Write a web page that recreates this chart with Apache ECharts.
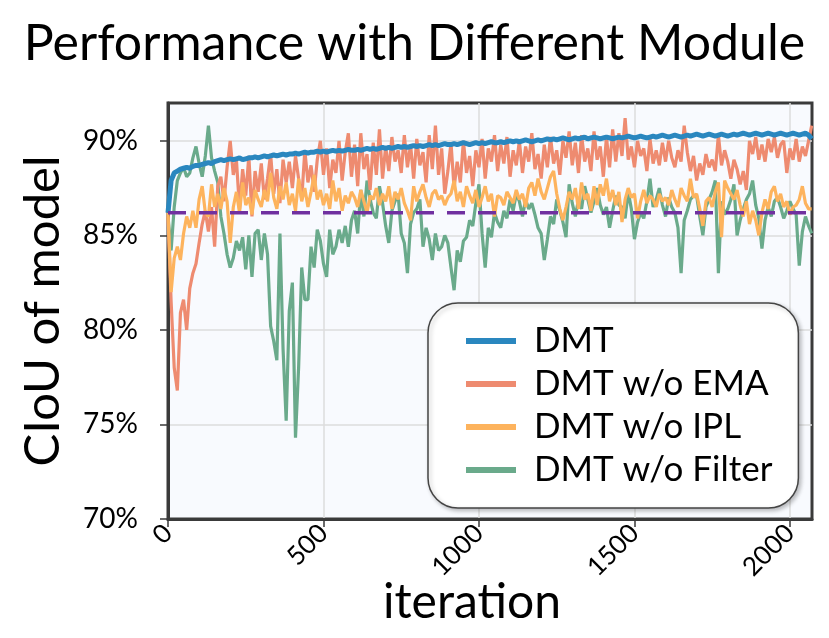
<!DOCTYPE html>
<html>
<head>
<meta charset="utf-8">
<script src="https://cdn.jsdelivr.net/npm/echarts@6/dist/echarts.min.js"></script>
<style>
  html, body { margin: 0; padding: 0; background: #fff; }
  #chart { width: 829px; height: 638px; }
</style>
</head>
<body>
<div id="chart"></div>
<script>
// sampled every 10 iterations, 0 .. 2070
const STEP = 10
const xTicks = [0, 500, 1000, 1500, 2000]
const yTicks = [70, 75, 80, 85, 90]
const seriesNames = ['DMT', 'DMT w/o EMA', 'DMT w/o IPL', 'DMT w/o Filter']

const dmt = [
  86.2, 87.9, 88.3, 88.4, 88.5, 88.55, 88.6, 88.55, 88.65, 88.7,
  88.7, 88.75, 88.8, 88.85, 88.8, 88.9, 88.95, 89.0, 88.95, 89.0,
  89.05, 89.0, 89.05, 89.1, 89.0, 89.05, 89.1, 89.1, 89.15, 89.1,
  89.15, 89.2, 89.15, 89.2, 89.25, 89.2, 89.25, 89.3, 89.25, 89.3,
  89.3, 89.35, 89.3, 89.35, 89.4, 89.35, 89.4, 89.4, 89.45, 89.4,
  89.45, 89.4, 89.45, 89.5, 89.45, 89.5, 89.45, 89.5, 89.55, 89.5,
  89.5, 89.55, 89.5, 89.55, 89.6, 89.55, 89.6, 89.55, 89.6, 89.65,
  89.6, 89.65, 89.6, 89.65, 89.7, 89.65, 89.7, 89.65, 89.7, 89.75,
  89.7, 89.75, 89.7, 89.75, 89.8, 89.75, 89.8, 89.75, 89.8, 89.85,
  89.8, 89.8, 89.85, 89.8, 89.85, 89.9, 89.85, 89.8, 89.85, 89.9,
  89.85, 89.9, 89.85, 89.9, 89.95, 89.9, 89.9, 89.95, 89.9, 89.95,
  90.0, 89.95, 90.0, 89.95, 90.0, 90.05, 90.0, 89.95, 90.0, 90.05,
  90.0, 90.05, 90.1, 90.05, 90.1, 90.05, 90.1, 90.15, 90.1, 90.05,
  90.1, 90.15, 90.1, 90.15, 90.2, 90.1, 90.15, 90.2, 90.15, 90.1,
  90.15, 90.2, 90.15, 90.1, 90.15, 90.2, 90.15, 90.2, 90.25, 90.2,
  90.15, 90.2, 90.25, 90.2, 90.15, 90.2, 90.25, 90.2, 90.25, 90.3,
  90.25, 90.2, 90.25, 90.3, 90.25, 90.2, 90.25, 90.3, 90.25, 90.3,
  90.35, 90.3, 90.25, 90.3, 90.35, 90.3, 90.25, 90.3, 90.35, 90.3,
  90.25, 90.3, 90.35, 90.3, 90.35, 90.4, 90.35, 90.3, 90.35, 90.4,
  90.35, 90.3, 90.35, 90.4, 90.35, 90.3, 90.35, 90.4, 90.35, 90.3,
  90.35, 90.4, 90.35, 90.3, 90.35, 90.4, 90.3, 90.1
]

const noEma = [
  86.0, 81.5, 78.0, 76.8, 80.9, 81.6, 80.0, 82.2, 83.0, 83.5,
  84.6, 85.6, 86.3, 85.2, 86.5, 84.4, 87.6, 88.1, 86.8, 88.6,
  90.0, 88.2, 89.0, 86.4, 88.5, 87.1, 89.2, 86.0, 88.4, 87.3,
  88.8, 86.9, 88.0, 89.3, 87.2, 88.5, 86.7, 89.0, 87.8, 88.9,
  87.5, 89.2, 88.0, 86.9, 89.5, 87.8, 88.7, 87.3, 89.0, 90.0,
  88.2, 89.6, 87.5, 89.0, 88.3, 90.0, 87.9, 89.4, 90.4, 88.1,
  89.8, 87.6, 90.4, 88.5, 89.3, 87.4, 89.9, 88.2, 90.6, 88.0,
  89.7, 88.4, 90.2, 88.9, 89.5, 88.3, 90.3, 88.6, 89.8, 88.0,
  90.1, 88.7, 89.4, 87.8, 90.3, 88.5, 90.8, 88.2, 89.6, 87.2,
  88.4, 89.9, 87.5, 88.9, 87.8, 90.0, 88.3, 89.2, 87.6, 89.5,
  88.6, 90.1, 88.0, 89.6, 88.9, 90.3, 88.4, 89.8, 88.8, 90.2,
  88.1, 89.5, 88.7, 90.0, 88.3, 89.7, 88.9, 90.4, 88.5, 89.3,
  88.0, 89.8, 88.6, 90.2, 88.8, 89.5, 88.2, 90.0, 89.1, 90.5,
  88.7, 89.9, 88.3, 90.3, 88.9, 89.6, 88.4, 90.5, 89.0, 89.7,
  88.1, 90.2, 88.6, 90.6, 88.9, 90.4, 89.2, 91.2, 89.0, 89.7,
  88.6, 90.0, 89.2, 89.6, 88.4, 90.1, 88.8, 89.5, 88.7, 89.9,
  88.9, 90.0, 89.1, 88.6, 89.5, 88.9, 90.8, 89.4, 88.4, 89.2,
  87.9, 88.8, 88.2, 89.3, 88.6, 89.0, 88.4, 90.3, 88.7, 89.5,
  88.9, 88.0, 89.0, 88.5, 87.7, 88.4, 87.4, 90.0, 89.3, 90.2,
  89.0, 89.8, 88.9, 90.1, 89.4, 90.2, 89.1, 89.8, 90.0, 88.3,
  89.6, 89.0, 90.1, 88.9, 89.7, 89.2, 90.0, 90.8
]

const noIpl = [
  86.2, 82.0, 83.8, 84.4, 83.7, 85.1, 86.0, 85.4, 86.3, 85.4,
  86.9, 87.6, 86.2, 86.0, 87.7, 86.5, 87.2, 86.4, 87.5, 86.8,
  84.6, 86.5, 87.3, 86.2, 87.8, 86.6, 87.0, 86.1, 87.4, 86.9,
  86.5, 87.4, 86.8, 88.3, 87.0, 86.4, 87.6, 86.9, 87.8, 86.6,
  87.2, 86.3, 88.0, 86.8, 87.5, 86.5, 87.3, 88.2, 86.9, 87.4,
  86.6, 87.2, 86.4, 87.9, 86.8, 87.5, 86.3, 87.1, 86.7, 87.3,
  87.0, 86.5, 87.4, 86.8, 86.2, 87.1, 86.9, 87.5, 86.6, 87.2,
  86.8, 87.6, 86.4, 87.3, 86.9, 87.5, 86.7, 86.3, 85.8, 87.6,
  86.8, 87.3, 87.7, 87.0, 86.5, 87.2, 87.4, 86.9, 87.1, 86.6,
  87.0, 87.2, 87.9, 86.8, 87.3, 86.5, 87.6, 87.1, 86.7, 87.4,
  86.5, 87.0, 87.6, 86.8, 87.2, 86.0, 87.1, 87.0, 86.6, 87.3,
  87.0, 86.7, 87.4, 86.9, 87.2, 86.5, 87.5, 87.8, 87.1, 88.0,
  87.3, 86.9, 87.5, 88.1, 88.4, 87.2, 86.4, 85.8, 86.5, 87.3,
  86.9, 87.5, 86.4, 87.8, 86.9, 87.2, 86.3, 87.6, 86.6, 87.7,
  87.1, 88.0, 86.8, 87.4, 86.6, 87.3, 85.7, 86.9, 87.5, 87.0,
  87.2, 85.9, 86.8, 87.4, 86.7, 87.1, 86.9, 86.5, 87.2, 86.8,
  87.0, 86.6, 87.4, 86.9, 86.5, 87.5, 87.1, 86.8, 88.0, 87.0,
  87.2, 86.4, 85.5, 86.8, 87.0, 86.5, 87.3, 87.8, 84.9, 87.9,
  87.5, 87.2, 86.9, 87.4, 86.6, 86.0, 86.8, 85.6, 86.3, 85.8,
  85.0, 86.2, 86.9, 86.4, 87.3, 87.6, 86.8, 87.2, 86.5, 86.8,
  86.1, 86.5, 86.6, 86.9, 87.6, 86.7, 86.4, 86.4
]

const noFilter = [
  86.0, 84.2, 86.5, 87.9, 88.3, 88.6, 88.1, 88.3, 89.1, 89.7,
  88.8, 88.1, 89.2, 90.8, 89.1, 88.4, 87.8, 86.0, 85.1, 84.0,
  83.3, 83.8, 84.7, 84.2, 84.9, 83.2, 85.0, 82.8, 85.1, 85.3,
  83.7, 85.1, 84.0, 80.2, 79.4, 78.4, 85.1, 79.0, 75.2, 81.0,
  82.5, 74.3, 78.0, 83.3, 81.6, 81.6, 84.4, 83.3, 85.3, 84.7,
  83.5, 82.8, 85.3, 84.0, 84.4, 85.3, 84.6, 85.5, 84.4, 85.8,
  86.3, 85.1, 87.4, 86.0, 87.9, 86.9, 86.2, 85.9, 87.6, 86.7,
  85.5, 84.6, 86.3, 86.8, 87.2, 85.1, 84.6, 83.0, 85.6, 86.2,
  86.4, 86.9, 84.4, 85.4, 84.8, 83.7, 85.1, 84.2, 84.4, 85.0,
  84.6, 83.3, 82.1, 84.2, 83.6, 84.7, 84.9, 85.8, 85.5, 86.7,
  87.7, 85.1, 83.3, 85.4, 84.9, 86.2, 85.7, 85.4, 86.3, 85.9,
  86.9, 86.3, 87.2, 86.8, 86.0, 86.9, 86.4, 86.7, 86.1, 85.4,
  85.1, 83.7, 84.8, 86.0, 85.6, 86.9, 86.3, 85.7, 84.9, 87.7,
  86.7, 86.0, 86.9, 86.4, 87.6, 86.9, 86.2, 86.8, 87.5, 86.6,
  86.1, 86.5, 85.4, 86.3, 87.1, 86.6, 86.5, 85.9, 87.3, 86.4,
  84.8, 85.7, 86.2, 85.9, 86.8, 88.0, 86.5, 86.9, 87.5, 86.6,
  86.0, 87.0, 86.5, 86.2, 85.4, 83.0, 85.8, 86.3, 86.9, 87.1,
  87.1, 86.0, 85.0, 86.5, 86.9, 87.3, 87.9, 83.0, 86.8, 86.1,
  86.4, 86.9, 87.7, 85.0, 85.8, 86.4, 86.9, 87.2, 87.9, 86.6,
  85.9, 84.3, 85.8, 86.5, 86.0, 86.8, 87.0, 86.5, 85.9, 86.3,
  86.8, 86.4, 86.1, 83.4, 85.2, 86.0, 85.5, 85.1
]

// dashed reference level
const baselineIters = [0, 2070]
const baselineVals = [86.2, 86.2]

const colors = {
  'DMT': '#2a87bf',
  'DMT w/o EMA': '#ee8b70',
  'DMT w/o IPL': '#fdb35d',
  'DMT w/o Filter': '#6aaa8b'
}

function toPairs(vals) {
  return vals.map((v, i) => [i * STEP, v])
}

function lineSeries(name, vals, width, z) {
  return {
    name: name,
    type: 'line',
    data: toPairs(vals),
    symbol: 'none',
    z: z,
    color: colors[name],
    lineStyle: { width: width, color: colors[name] }
  }
}

const chart = echarts.init(document.getElementById('chart'), null, { renderer: 'canvas' })
const font = 'Lato'

chart.setOption({
  animation: false,
  backgroundColor: '#ffffff',
  title: {
    text: 'Performance with Different Module',
    left: 'center',
    top: 14,
    textStyle: { fontFamily: font, fontSize: 50, fontWeight: 'normal', color: '#000' }
  },
  grid: {
    left: 168, right: 17, top: 103, bottom: 119,
    show: true,
    backgroundColor: '#f8fafe',
    borderColor: '#3a3a3a',
    borderWidth: 3,
    outerBoundsMode: 'none'
  },
  legend: {
    data: seriesNames,
    orient: 'vertical',
    left: 428, top: 303,
    icon: 'rect',
    itemWidth: 50, itemHeight: 6,
    itemGap: 7,
    padding: [20, 26, 20, 38],
    backgroundColor: '#ffffff',
    borderColor: '#444',
    borderWidth: 1.5,
    borderRadius: 30,
    shadowColor: 'rgba(0,0,0,0.25)',
    shadowBlur: 4,
    shadowOffsetX: 2,
    shadowOffsetY: 2,
    textStyle: { fontFamily: font, fontSize: 35, color: '#000', padding: [0, 0, 0, 13], lineHeight: 36 }
  },
  xAxis: {
    type: 'value',
    min: 0, max: 2071,
    name: 'iteration',
    nameLocation: 'middle',
    nameGap: 60,
    nameMoveOverlap: false,
    nameTextStyle: { fontFamily: font, fontSize: 48, color: '#000', padding: [0, 36, 0, 0] },
    axisLine: { show: true, lineStyle: { color: '#3a3a3a', width: 3 } },
    axisTick: { show: true, length: 8, customValues: xTicks, lineStyle: { color: '#3a3a3a', width: 1.5 } },
    axisLabel: { customValues: xTicks, rotate: 45, margin: 10, fontFamily: font, fontSize: 26, color: '#000',
      formatter: v => String(v) },
    splitLine: { show: true, lineStyle: { color: '#dcdcdc', width: 1.5 } }
  },
  yAxis: {
    type: 'value',
    min: 70, max: 92,
    name: 'CIoU of model',
    nameLocation: 'middle',
    nameGap: 100,
    nameMoveOverlap: false,
    nameTextStyle: { fontFamily: font, fontSize: 49, color: '#000' },
    axisLine: { show: true, lineStyle: { color: '#3a3a3a', width: 3 } },
    axisTick: { show: true, length: 8, customValues: yTicks, lineStyle: { color: '#3a3a3a', width: 1.5 } },
    axisLabel: { customValues: yTicks, margin: 30, fontFamily: font, fontSize: 28, color: '#000',
      formatter: v => v + '%' },
    splitLine: { show: true, lineStyle: { color: '#dcdcdc', width: 1.5 } }
  },
  series: [
    lineSeries('DMT w/o Filter', noFilter, 3.2, 2),
    lineSeries('DMT w/o EMA', noEma, 3.2, 3),
    lineSeries('DMT w/o IPL', noIpl, 3.2, 4),
    lineSeries('DMT', dmt, 5, 5),
    {
      name: 'baseline',
      type: 'line',
      data: baselineIters.map((x, i) => [x, baselineVals[i]]),
      symbol: 'none',
      z: 6,
      lineStyle: { color: '#7030a0', width: 3.5, type: [18, 13] }
    }
  ]
})
</script>
</body>
</html>
